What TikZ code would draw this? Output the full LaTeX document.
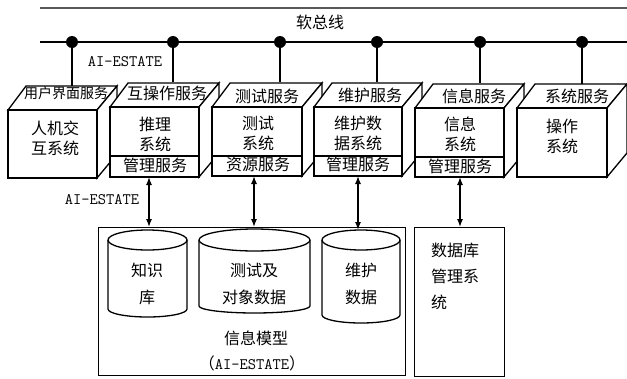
\documentclass[tikz,border=0pt]{standalone}
\usepackage{fontspec}
\newfontfamily\cjk{Noto Sans CJK SC}
\usetikzlibrary{arrows.meta}
\newcommand\mycube[5]{%
  \draw[face] (#1,#3) -- ({#1+18},{#3-24}) -- ({#2+20},{#3-24}) -- (#2,#3) -- cycle;
  \draw[face] (#2,#3) -- ({#2+20},{#3-24}) -- ({#2+20},{#4-24}) -- (#2,#4) -- cycle;
  \draw[face] (#1,#3) rectangle (#2,#4);
  \coordinate (#5) at ({(#1+#2)/2},#4);
}
\newcommand\mycyl[8]{% l r cx topcy topry botcy botry name
  \draw[face] (#1,#4) -- (#1,#6) arc[start angle=180,end angle=360,x radius={(#2-#1)/2*1pt},y radius=#7pt] -- (#2,#4);
  \draw[face] (#3,#4) ellipse[x radius={(#2-#1)/2*1pt},y radius=#5pt];
  \coordinate (#8) at (#3,{#4-#5});
}
\begin{document}
\begin{tikzpicture}[x=1pt,y=-1pt,
  face/.style={draw, line width=1.3pt, fill=white, line join=miter},
  edge/.style={line width=1.3pt},
  zh/.style={font=\cjk\fontsize{16}{20}\selectfont, inner sep=0pt, align=center},
  lat/.style={font=\ttfamily\fontsize{16}{16}\selectfont, inner sep=0pt},
  dot/.style={circle, fill=black, inner sep=0pt, minimum size=12pt},
  dbl/.style={{Latex[length=8pt,width=6pt]}-{Latex[length=8pt,width=6pt]}, line width=1.3pt}]
\useasboundingbox (0,0) rectangle (627,378);
\fill[white] (0,0) rectangle (627,378);

% bus
\draw[line width=2.8pt, black!65] (40,8) -- (627,8);
\node[zh] (bus) at (320,22) {软总线};
\draw[edge] (40,42) -- (627,42);
\node[lat] (ai1) at (125,62) {AI-ESTATE};

\foreach \i/\x/\y in {1/72/86, 2/173/82, 3/280/82, 4/377/82, 5/480/83, 6/582/84}{
  \node[dot] (d\i) at (\x,42) {};
  \coordinate (t\i) at (\x,\y);
  \draw[edge] (d\i.center) -- (t\i);
}

% cubes
\mycube{8}{97}{110}{178}{c1}
\mycube{110}{199}{107}{177}{c2}
\draw[edge] (110,156) -- (199,156);
\mycube{212}{302}{107}{176}{c3}
\draw[edge] (212,156) -- (302,156);
\mycube{314}{402}{107}{176}{c4}
\draw[edge] (314,156) -- (402,156);
\mycube{415}{504}{108}{177}{c5}
\draw[edge] (415,157) -- (504,157);
\mycube{517}{607}{108}{177}{c6}

% cube titles
\node[zh, font=\cjk\fontsize{14}{16}\selectfont] (h1) at (66,93) {用户界面服务};
\node[zh] (h2) at (167,93) {互操作服务};
\node[zh] (h3) at (267,96) {测试服务};
\node[zh] (h4) at (370,95) {维护服务};
\node[zh] (h5) at (474,96) {信息服务};
\node[zh] (h6) at (577,96) {系统服务};

% cube bodies
\node[zh] (s1) at (55,138) {人机交\\互系统};
\node[zh] (s2) at (155,134) {推理\\系统};
\node[zh] (m2) at (155,165) {管理服务};
\node[zh] (s3) at (258,133) {测试\\系统};
\node[zh] (m3) at (258,164) {资源服务};
\node[zh] (s4) at (358,133) {维护数\\据系统};
\node[zh] (m4) at (358,164) {管理服务};
\node[zh] (s5) at (460,134) {信息\\系统};
\node[zh] (m5) at (460,166) {管理服务};
\node[zh] (s6) at (562,136) {操作\\系统};

% lower boxes
\node[face, anchor=north west, minimum width=307pt, minimum height=148pt, inner sep=0pt] (im) at (98,227) {};
\node[face, anchor=north west, minimum width=90pt, minimum height=149pt, inner sep=0pt] (db) at (414,227) {};

\mycyl{108}{187}{147.5}{240}{10}{309}{8}{y1}
\mycyl{199}{310}{254.5}{240}{11}{306}{7}{y2}
\mycyl{322}{400}{361}{240}{10}{315}{8}{y3}

\node[zh, font=\cjk\fontsize{16}{27}\selectfont] (k1) at (147,284) {知识\\库};
\node[zh, font=\cjk\fontsize{16}{27}\selectfont] (k2) at (254,284) {测试及\\对象数据};
\node[zh, font=\cjk\fontsize{16}{27}\selectfont] (k3) at (361,284) {维护\\数据};
\node[zh] (imt) at (256,338) {信息模型};
\node[zh] (imt2) at (252,363) {（\ttfamily\fontsize{16}{16}\selectfont AI-ESTATE\cjk）};
\node[zh, font=\cjk\fontsize{16}{26}\selectfont, align=left, anchor=west] (dbt) at (431,276) {数据库\\管理系\\统};
\node[lat] (ai2) at (102,200) {AI-ESTATE};

% arrows
\coordinate (a1) at (149,177);
\coordinate (a2) at (254,176);
\coordinate (a3) at (358,176);
\coordinate (a4) at (460,177);
\draw[dbl] (a1) -- (a1 |- im.north);
\draw[dbl] (a2) -- (a2 |- im.north);
\draw[dbl] (a3) -- (a3 |- y3);
\draw[dbl] (a4) -- (a4 |- db.north);
\end{tikzpicture}
\end{document}
